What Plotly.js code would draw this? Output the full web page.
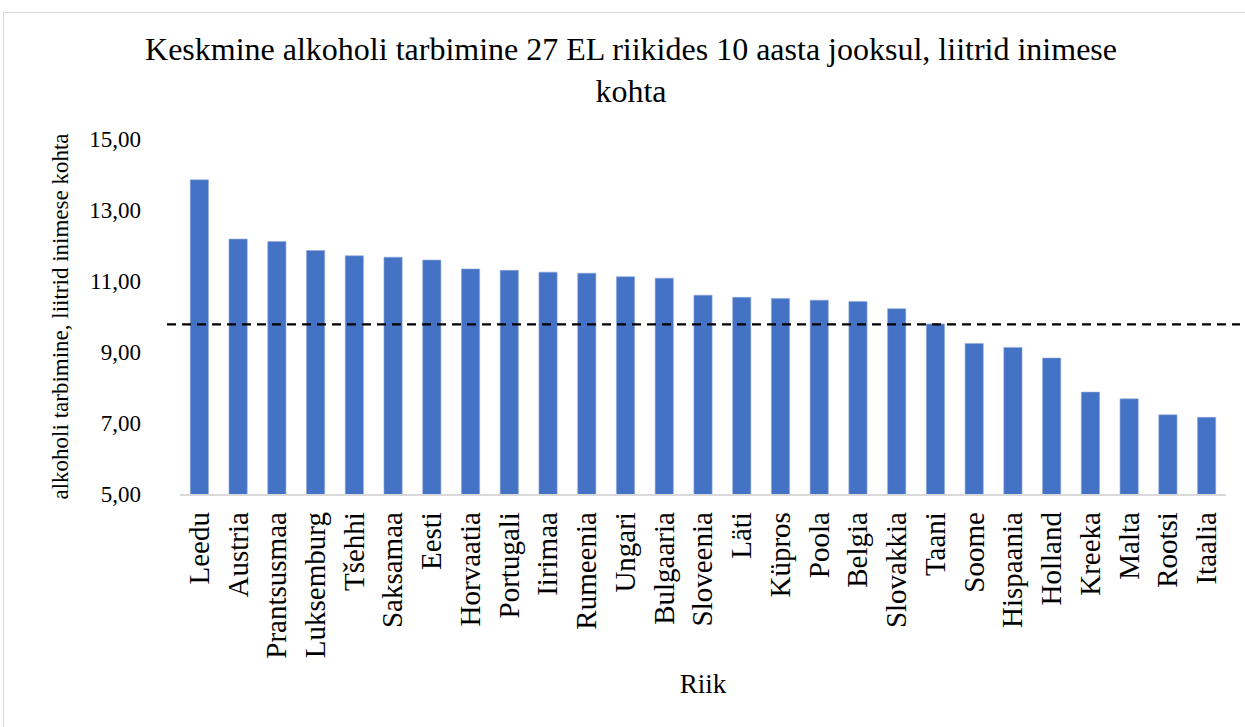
<!DOCTYPE html>
<html>
<head>
<meta charset="utf-8">
<script src="https://cdn.plot.ly/plotly-3.0.1.min.js"></script>
<style>
html,body{margin:0;padding:0;background:#fff;overflow:hidden;}
#chart{width:1245px;height:727px;}
#frame{position:absolute;left:3px;top:12px;width:1400px;height:900px;border:1px solid #d9d9d9;pointer-events:none;}
</style>
</head>
<body>
<div id="chart"></div>
<div id="frame"></div>
<script>
var riigid = ["Leedu","Austria","Prantsusmaa","Luksemburg","Tšehhi","Saksamaa","Eesti","Horvaatia","Portugali","Iirimaa","Rumeenia","Ungari","Bulgaaria","Sloveenia","Läti","Küpros","Poola","Belgia","Slovakkia","Taani","Soome","Hispaania","Holland","Kreeka","Malta","Rootsi","Itaalia"];
var tarbimine = [13.85,12.18,12.11,11.86,11.71,11.67,11.59,11.34,11.30,11.25,11.22,11.12,11.08,10.60,10.54,10.51,10.46,10.42,10.22,9.79,9.24,9.13,8.83,7.87,7.68,7.23,7.16];
var keskmine = 9.78;
var yTicks = [5,7,9,11,13,15];

var font = "Liberation Serif, Times New Roman, serif";

var trace = {
  type: "bar",
  x: riigid,
  y: tarbimine,
  marker: {color: "#4472C4", line: {color: "#8faadc", width: 0.6}},
  hoverinfo: "x+y"
};

var layout = {
  width: 1245,
  height: 727,
  margin: {l: 180, r: 19, t: 139, b: 233},
  paper_bgcolor: "#ffffff",
  plot_bgcolor: "#ffffff",
  separators: ", ",
  showlegend: false,
  bargap: 0.53,
  font: {family: font, color: "#000000"},
  title: {
    text: "Keskmine alkoholi tarbimine 27 EL riikides 10 aasta jooksul, liitrid inimese<br>kohta",
    font: {family: font, size: 32, color: "#000000"},
    x: 631/1245, xanchor: "center", xref: "container",
    yref: "container", y: 1 - 60/727, yanchor: "middle"
  },
  xaxis: {
    type: "category",
    tickangle: -90,
    tickfont: {family: font, size: 29, color: "#000000"},
    showline: true, linecolor: "#d9d9d9", linewidth: 1.5,
    showgrid: false, zeroline: false, ticks: "",
    ticklabelstandoff: 5,
    title: {text: "Riik", font: {family: font, size: 27, color: "#000000"}, standoff: 16}
  },
  yaxis: {
    range: [5, 15],
    tickvals: yTicks,
    tickformat: ".2f",
    tickfont: {family: font, size: 23, color: "#000000"},
    showline: false, showgrid: false, zeroline: false, ticks: "",
    ticklabelstandoff: 38,
    title: {text: "alkoholi tarbimine, liitrid inimese kohta", font: {family: font, size: 23, color: "#000000"}, standoff: 14}
  },
  shapes: [{
    type: "line", xref: "paper", yref: "y",
    x0: -0.0124, x1: 1.0134, y0: keskmine, y1: keskmine,
    line: {color: "#000000", width: 2.2, dash: "9px,6px"},
    layer: "above"
  }]
};

Plotly.newPlot("chart", [trace], layout, {displayModeBar: false, staticPlot: true});
</script>
</body>
</html>
